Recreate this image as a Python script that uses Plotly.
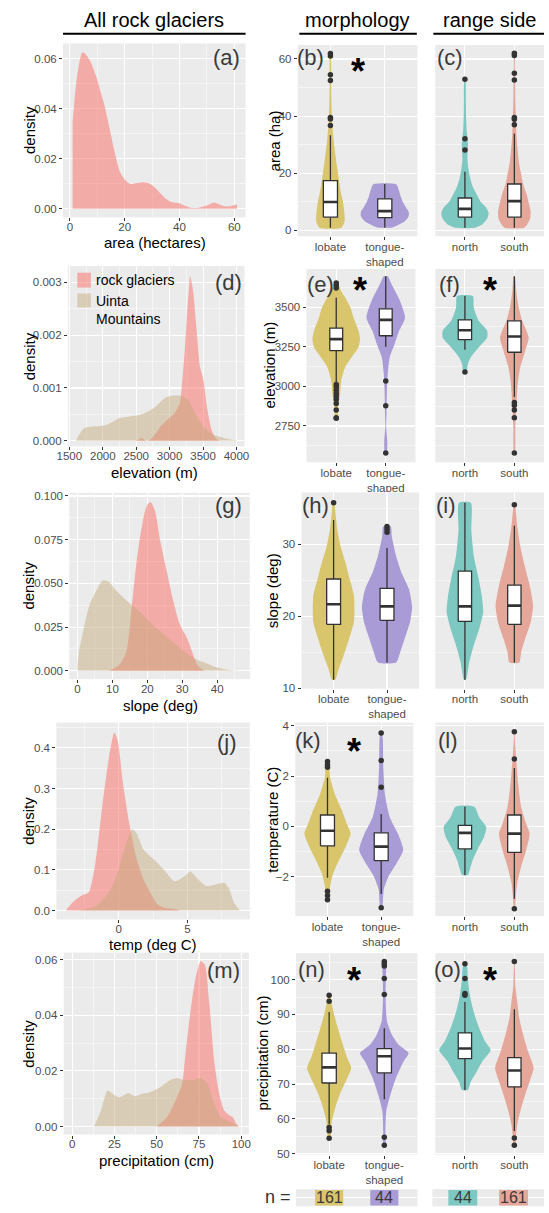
import plotly.graph_objects as go

W, H = 549, 1213
FONT = "Liberation Sans, Arial, sans-serif"
BG = "#EBEBEB"
TICKC = "#4D4D4D"
DARK = "#333333"
PINK = "rgba(248,118,109,0.55)"
TAN = "rgba(196,167,120,0.45)"
C_LOB, C_TON, C_NOR, C_SOU = "#D9C56B", "#A99BD5", "#7EC8C2", "#E6A79B"

# ---------------- data ----------------
morph_groups = ["lobate", "tongue-<br>shaped"]
side_groups = ["north", "south"]
n_morph = [161, 44]
n_side = [44, 161]

area_x = [1, 2, 3, 4.6, 7, 9.5, 11.4, 12.6, 14.5, 16.3, 18.2, 20.1, 22, 24, 26.5, 29, 31, 33, 35, 37, 40, 42, 44.6, 47, 50, 52.5, 55, 57, 59, 61]
area_rg = [0.035, 0.047, 0.0557, 0.0627, 0.060, 0.0533, 0.046, 0.0415, 0.032, 0.0229, 0.0149, 0.0116, 0.0099, 0.0102, 0.0106, 0.0101, 0.0085, 0.0062, 0.0040, 0.0027, 0.0022, 0.0012, 0.0003, 0.0004, 0.0013, 0.0025, 0.0015, 0.0009, 0.0012, 0.0017]

elev_rg_x = [2500, 2550, 2580, 2620, 2660, 2720, 2800, 2870, 2970, 3070, 3150, 3180, 3226, 3260, 3290, 3305, 3330, 3355, 3404, 3455, 3506, 3557, 3634, 3700, 3760]
elev_rg = [0, 0.00003, 0.00006, 0.00002, 0.0, 0.00003, 0.00015, 0.00028, 0.0004, 0.00052, 0.0007, 0.001, 0.0017, 0.0024, 0.0029, 0.00312, 0.0030, 0.0028, 0.0021, 0.0014, 0.00115, 0.00065, 0.00018, 0.00003, 0]
elev_um_x = [1595, 1650, 1723, 1850, 2053, 2257, 2400, 2563, 2766, 2921, 3022, 3174, 3276, 3350, 3430, 3500, 3582, 3650, 3736, 3887, 3989, 4030]
elev_um = [0, 0.00012, 0.00024, 0.00027, 0.0003, 0.00043, 0.00046, 0.00049, 0.00062, 0.0008, 0.00085, 0.00085, 0.00077, 0.0006, 0.0004, 0.00028, 0.00018, 0.00012, 0.00008, 0.00003, 0.00001, 0]

slope_rg_x = [9.1, 12, 14, 15.4, 16.9, 18.3, 19.8, 20.9, 22.2, 23.6, 25.6, 27.5, 29.4, 31.4, 32.8, 34.3, 36.2]
slope_rg = [0, 0.0034, 0.011, 0.0337, 0.062, 0.081, 0.0943, 0.0966, 0.0915, 0.0754, 0.0565, 0.0394, 0.026, 0.0186, 0.011, 0.0034, 0]
slope_um_x = [0, 0.5, 1.4, 3.3, 5.2, 7.2, 9.1, 11, 14, 17.8, 21.7, 25.6, 29.4, 33.3, 36.2, 39.1, 43, 46.8]
slope_um = [0.0034, 0.012, 0.0205, 0.0366, 0.045, 0.0517, 0.0508, 0.046, 0.0403, 0.0337, 0.026, 0.0195, 0.0129, 0.0072, 0.0048, 0.0025, 0.0006, 0]

temp_rg_x = [-3.8, -3.2, -2.7, -2.2, -1.7, -1.2, -0.7, -0.32, -0.07, 0.3, 0.8, 1.3, 1.8, 2.3, 2.8, 3.3, 3.8, 4.3, 4.5]
temp_rg = [0.003, 0.025, 0.037, 0.044, 0.118, 0.257, 0.38, 0.437, 0.416, 0.314, 0.208, 0.127, 0.076, 0.044, 0.016, 0.007, 0.005, 0.002, 0]
temp_um_x = [-2.9, -1.7, -0.95, -0.45, 0.05, 0.55, 0.98, 1.3, 1.8, 2.55, 3.3, 4.05, 4.8, 5.2, 5.8, 6.4, 7.05, 7.7, 8.05, 8.4, 8.8]
temp_um = [0, 0.0106, 0.035, 0.06, 0.109, 0.167, 0.2, 0.19, 0.15, 0.126, 0.1, 0.072, 0.084, 0.096, 0.076, 0.06, 0.064, 0.068, 0.052, 0.019, 0.002]

precip_rg_x = [50, 56, 62, 65, 67, 70, 73, 76, 78.4, 81, 84, 87, 90, 93, 95, 97, 98.4]
precip_rg = [0, 0.0033, 0.0105, 0.0153, 0.026, 0.0415, 0.0534, 0.0594, 0.0582, 0.045, 0.0236, 0.0117, 0.0057, 0.0039, 0.0033, 0.001, 0]
precip_um_x = [13, 17, 21, 24, 28, 33, 37, 41, 46, 52, 58, 62, 66, 72, 76, 80, 84, 88, 92, 96, 99]
precip_um = [0, 0.0057, 0.0129, 0.0117, 0.0105, 0.0119, 0.0109, 0.0117, 0.0123, 0.0141, 0.0167, 0.0174, 0.0167, 0.0167, 0.0174, 0.0153, 0.0081, 0.0033, 0.0021, 0.001, 0]

area_lob_v = [0.9, 3, 5.5, 10, 13.6, 21.7, 31, 39, 50.6, 62]
area_lob_w = [0.2, 0.26, 0.26, 0.23, 0.19, 0.125, 0.063, 0.027, 0.014, 0.005]
area_ton_v = [1.0, 2.1, 3, 4, 5, 6.5, 8, 10, 12, 14, 16.1]
area_ton_w = [0.14, 0.27, 0.36, 0.41, 0.44, 0.44, 0.39, 0.33, 0.29, 0.26, 0.21]
area_nor_v = [0.9, 2, 4, 6, 8, 10.2, 12.5, 14.8, 18, 21.7, 25, 28, 30, 32, 35, 40, 45, 52.6]
area_nor_w = [0.2, 0.35, 0.45, 0.48, 0.43, 0.31, 0.24, 0.17, 0.11, 0.07, 0.05, 0.06, 0.063, 0.055, 0.035, 0.024, 0.02, 0.01]
area_sou_v = [0.9, 2, 4, 6.5, 9, 12.5, 16, 19.4, 23, 27.5, 33.3, 40, 45, 52, 58, 62]
area_sou_w = [0.2, 0.26, 0.32, 0.33, 0.3, 0.25, 0.18, 0.14, 0.1, 0.07, 0.043, 0.03, 0.02, 0.016, 0.01, 0.006]

elev_lob_v = [2798, 2871, 2954, 3037, 3121, 3183, 3246, 3298, 3350, 3433, 3496, 3560, 3600, 3652]
elev_lob_w = [0.02, 0.04, 0.08, 0.1, 0.18, 0.31, 0.45, 0.48, 0.45, 0.35, 0.29, 0.18, 0.1, 0.03]
elev_ton_v = [2579, 2620, 2662, 2746, 2829, 2975, 3079, 3183, 3267, 3350, 3433, 3537, 3642, 3694]
elev_ton_w = [0.02, 0.03, 0.03, 0.008, 0.016, 0.024, 0.04, 0.08, 0.18, 0.27, 0.39, 0.29, 0.12, 0.04]
elev_nor_v = [3090, 3142, 3183, 3246, 3308, 3350, 3413, 3496, 3569]
elev_nor_w = [0.03, 0.06, 0.12, 0.28, 0.45, 0.45, 0.28, 0.18, 0.16]
elev_sou_v = [2579, 2746, 2871, 3017, 3121, 3225, 3308, 3413, 3496, 3600, 3694]
elev_sou_w = [0.01, 0.02, 0.04, 0.07, 0.12, 0.22, 0.29, 0.16, 0.09, 0.04, 0.01]

slope_lob_v = [11.2, 12.8, 14.6, 16.9, 19.2, 21.1, 22.9, 25.2, 27.5, 29.75, 32, 34.3, 35.8]
slope_lob_w = [0.03, 0.1, 0.19, 0.29, 0.38, 0.39, 0.38, 0.3, 0.22, 0.13, 0.07, 0.036, 0.01]
slope_ton_v = [13.6, 15.1, 16.9, 19.2, 21.3, 23.8, 26.1, 28.4, 31.1, 32.5]
slope_ton_w = [0.17, 0.25, 0.33, 0.43, 0.47, 0.41, 0.27, 0.17, 0.09, 0.07]
slope_nor_v = [11.2, 13.7, 16, 18.3, 20.6, 22.9, 25.2, 28.4, 32, 35.8]
slope_nor_w = [0.02, 0.09, 0.18, 0.29, 0.37, 0.34, 0.28, 0.18, 0.13, 0.12]
slope_sou_v = [13.6, 15.1, 16.9, 19.2, 21.5, 24.3, 27, 29.75, 32.5, 35.2, 35.5]
slope_sou_w = [0.1, 0.14, 0.22, 0.33, 0.38, 0.31, 0.21, 0.12, 0.06, 0.02, 0.01]

temp_lob_v = [-2.96, -2.76, -2.37, -1.85, -1.33, -0.81, -0.29, 0.1, 0.63, 1.27, 1.93, 2.58]
temp_lob_w = [0.02, 0.04, 0.05, 0.11, 0.22, 0.34, 0.43, 0.36, 0.27, 0.14, 0.05, 0.02]
temp_ton_v = [-3.24, -3.02, -2.5, -1.98, -1.46, -0.94, -0.29, 0.36, 1.27, 2.32, 3.49, 3.75]
temp_ton_w = [0.02, 0.03, 0.05, 0.14, 0.29, 0.41, 0.31, 0.16, 0.07, 0.04, 0.03, 0.01]
temp_nor_v = [-1.94, -1.72, -1.33, -0.94, -0.42, -0.03, 0.36, 0.78]
temp_nor_w = [0.06, 0.1, 0.16, 0.25, 0.39, 0.43, 0.29, 0.19]
temp_sou_v = [-3.28, -2.76, -2.24, -1.59, -0.94, -0.29, 0.1, 0.75, 1.66, 2.58, 3.49, 3.77]
temp_sou_w = [0.01, 0.03, 0.06, 0.14, 0.24, 0.31, 0.24, 0.14, 0.08, 0.04, 0.01, 0.006]

precip_lob_v = [54.4, 55.5, 59.3, 63.1, 66.9, 70.7, 74.6, 77.4, 81.3, 86, 90.7, 94.1, 95.5]
precip_lob_w = [0.02, 0.035, 0.05, 0.11, 0.19, 0.3, 0.4, 0.33, 0.25, 0.16, 0.08, 0.035, 0.02]
precip_ton_v = [52.4, 56.4, 62.1, 66.9, 71.7, 76.5, 78.9, 81.3, 84.1, 87.9, 93.6, 99.3, 104.1, 105.2]
precip_ton_w = [0.02, 0.02, 0.035, 0.11, 0.21, 0.35, 0.44, 0.26, 0.14, 0.05, 0.026, 0.026, 0.035, 0.02]
precip_nor_v = [68.3, 70.7, 73.6, 76.5, 79.8, 82.2, 86, 90.7, 95.5, 100.3, 103.1, 104.6]
precip_nor_w = [0.06, 0.12, 0.24, 0.35, 0.52, 0.41, 0.29, 0.18, 0.1, 0.06, 0.05, 0.02]
precip_sou_v = [52.3, 54.7, 58.4, 62.1, 66.9, 70.7, 74.6, 79.3, 84.1, 88.9, 93.6, 98.3, 104.1, 105.2]
precip_sou_w = [0.02, 0.03, 0.06, 0.12, 0.22, 0.31, 0.39, 0.28, 0.18, 0.1, 0.06, 0.02, 0.01, 0.006]

area_lob_box = [4.6, 9.9, 17.4, 0.9, 33.3]
area_lob_out = [36.7, 39.0, 39.5, 52.5, 54.5, 61.0, 61.9]
area_ton_box = [4.4, 6.7, 11.0, 0.9, 16.2]
area_ton_out = []
area_nor_box = [4.6, 7.5, 11.3, 0.9, 20.5]
area_nor_out = [28.1, 32.1, 52.9]
area_sou_box = [4.6, 10.2, 16.2, 0.9, 33.8]
area_sou_out = [37.0, 38.9, 39.5, 52.6, 55.0, 61.2, 62.0]

elev_lob_box = [3225, 3298, 3367, 3017, 3558]
elev_lob_out = [2798, 2802, 2850, 2892, 2917, 2937, 2954, 2975, 2996, 3011, 3621, 3637, 3652]
elev_ton_box = [3319, 3419, 3489, 3250, 3694]
elev_ton_out = [2579, 2877, 3033]
elev_nor_box = [3294, 3354, 3419, 3231, 3569]
elev_nor_out = [3090]
elev_sou_box = [3215, 3314, 3413, 2933, 3694]
elev_sou_out = [2579, 2802, 2850, 2881, 2898]

slope_lob_box = [18.9, 21.7, 25.2, 11.2, 33.4]
slope_lob_out = [35.8]
slope_ton_box = [19.45, 21.4, 23.9, 13.6, 29.5]
slope_ton_out = [31.7, 32.1, 32.5]
slope_nor_box = [19.3, 21.4, 26.3, 11.2, 35.8]
slope_nor_out = []
slope_sou_box = [18.9, 21.5, 24.35, 13.6, 32.6]
slope_sou_out = [35.5]

temp_lob_box = [-0.78, -0.18, 0.45, -2.05, 1.93]
temp_lob_out = [2.35, 2.45, 2.58, -2.59, -2.76, -2.93]
temp_ton_box = [-1.37, -0.81, -0.26, -2.7, 0.49]
temp_ton_out = [1.56, 2.62, 3.72, -3.24]
temp_nor_box = [-0.9, -0.26, 0.04, -1.94, 0.78]
temp_nor_out = []
temp_sou_box = [-1.04, -0.29, 0.45, -2.89, 2.32]
temp_sou_out = [2.68, 3.77, -3.28]

precip_lob_box = [70.3, 74.8, 78.9, 58.4, 90.7]
precip_lob_out = [93.8, 95.5, 57.5, 56.6, 54.4]
precip_ton_box = [73.2, 78.0, 80.2, 65.6, 86.0]
precip_ton_out = [95.7, 100.3, 103.9, 104.6, 105.2, 54.7, 52.4]
precip_nor_box = [77.3, 80.2, 84.7, 68.3, 93.6]
precip_nor_out = [95.5, 96.0, 100.3, 104.6]
precip_sou_box = [69.2, 73.9, 77.6, 56.5, 91.5]
precip_sou_out = [105.2, 54.5, 52.4]


def dx(a, b):
    return [a / W, b / W]


def dy(a, b):
    return [1 - b / H, 1 - a / H]


def ref(i, ax):
    return ax if i == 1 else f"{ax}{i}"


def key(i, ax):
    return f"{ax}axis" if i == 1 else f"{ax}axis{i}"


TICKFONT = dict(family=FONT, size=11.5, color=TICKC)


def num_axis(i, ax, dom, rng, tick0, dtick, minor, fmt="", labels=True):
    other = "y" if ax == "x" else "x"
    d = dict(domain=dom, range=rng, anchor=ref(i, other), tickmode="linear",
             tick0=tick0, dtick=dtick, tickformat=fmt, showgrid=True,
             gridcolor="white", gridwidth=1.1, zeroline=False, showline=False,
             ticks="outside" if labels else "", ticklen=3, tickwidth=1,
             tickcolor=DARK, showticklabels=labels, tickfont=TICKFONT,
             minor=dict(tick0=tick0, dtick=minor, showgrid=True,
                        gridcolor="white", gridwidth=0.5),
             fixedrange=True)
    if ax == "x":
        d["ticklabelstandoff"] = -4
    return d


def cat_axis(i, dom, labels, show=True):
    return dict(domain=dom, range=[0.4, 2.6], anchor=ref(i, "y"), tickmode="array",
                tickvals=[1, 2], ticktext=labels, showgrid=True, gridcolor="white",
                gridwidth=1.1, zeroline=False, showline=False,
                ticks="outside" if show else "", ticklen=3, tickcolor=DARK,
                showticklabels=show, tickfont=TICKFONT, fixedrange=True,
                ticklabelstandoff=-3)


fig = go.Figure()
layout = dict(width=W, height=H, margin=dict(l=0, r=0, t=0, b=0),
              paper_bgcolor="white", plot_bgcolor=BG, showlegend=False,
              font=dict(family=FONT))

left_panels = [
    (1, 53.6, 241.6, 40.7, 216, [-2.5, 64.1], [-0.0035, 0.0662], 0, 20, 10, 0, 0.02, 0.01, ".2f",
     [(area_x, area_rg, PINK)]),
    (4, 58.6, 240.5, 265, 446.7, [1478, 4120], [-0.000107, 0.00331], 1500, 500, 250, 0, 0.001, 0.0005, ".3f",
     [(elev_rg_x, elev_rg, PINK), (elev_um_x, elev_um, TAN)]),
    (7, 60, 246, 493.5, 681.2, [-2.35, 49.35], [-0.0048, 0.1018], 0, 10, 5, 0, 0.025, 0.0125, ".3f",
     [(slope_rg_x, slope_rg, PINK), (slope_um_x, slope_um, TAN)]),
    (10, 46.7, 246, 725, 923.3, [-4.55, 9.55], [-0.022, 0.462], 0, 5, 2.5, 0, 0.1, 0.05, ".1f",
     [(temp_rg_x, temp_rg, PINK), (temp_um_x, temp_um, TAN)]),
    (13, 54.3, 245, 956.7, 1140, [-5, 104.5], [-0.0029, 0.0625], 0, 25, 12.5, 0, 0.02, 0.01, ".2f",
     [(precip_rg_x, precip_rg, PINK), (precip_um_x, precip_um, TAN)]),
]
for (i, x0, x1, y0, y1, xr, yr, xt0, xdt, xmn, yt0, ydt, ymn, yfmt, series) in left_panels:
    layout[key(i, "x")] = num_axis(i, "x", dx(x0, x1), xr, xt0, xdt, xmn, "d")
    layout[key(i, "y")] = num_axis(i, "y", dy(y0, y1), yr, yt0, ydt, ymn, yfmt)
    for xs, ys, col in series:
        fig.add_trace(go.Scatter(x=xs, y=ys, fill="tozeroy", fillcolor=col, mode="lines",
                                 line=dict(width=0, color=col, shape="spline", smoothing=0.7),
                                 xaxis=ref(i, "x"), yaxis=ref(i, "y"), hoverinfo="skip"))


def add_group(i, center, vals, hws, color, box, outl, bw):
    xa, ya = ref(i, "x"), ref(i, "y")
    xs = [center + w for w in hws] + [center - w for w in hws[::-1]]
    ys = list(vals) + list(vals[::-1])
    xs.append(xs[0]); ys.append(ys[0])
    fig.add_trace(go.Scatter(x=xs, y=ys, fill="toself", fillcolor=color, mode="lines",
                             line=dict(width=0, color=color, shape="spline", smoothing=0.6),
                             xaxis=xa, yaxis=ya, hoverinfo="skip"))
    q1, med, q3, lo, hi = box
    fig.add_trace(go.Scatter(x=[center, center, None, center, center], y=[lo, q1, None, q3, hi],
                             mode="lines", line=dict(color=DARK, width=1.3),
                             xaxis=xa, yaxis=ya, hoverinfo="skip"))
    l, r = center - bw / 2, center + bw / 2
    fig.add_trace(go.Scatter(x=[l, r, r, l, l], y=[q1, q1, q3, q3, q1], mode="lines",
                             fill="toself", fillcolor="white", line=dict(color=DARK, width=1.3),
                             xaxis=xa, yaxis=ya, hoverinfo="skip"))
    fig.add_trace(go.Scatter(x=[l, r], y=[med, med], mode="lines", line=dict(color=DARK, width=2.6),
                             xaxis=xa, yaxis=ya, hoverinfo="skip"))
    if outl:
        fig.add_trace(go.Scatter(x=[center] * len(outl), y=outl, mode="markers",
                                 marker=dict(color=DARK, size=5.5),
                                 xaxis=xa, yaxis=ya, hoverinfo="skip"))


mid_panels = [
    (2, 3, 295.4, 418.6, 42.3, 235, [-2.1, 64.9], 0, 20, 10, "d",
     [(area_lob_v, area_lob_w, C_LOB, area_lob_box, area_lob_out),
      (area_ton_v, area_ton_w, C_TON, area_ton_box, area_ton_out)],
     [(area_nor_v, area_nor_w, C_NOR, area_nor_box, area_nor_out),
      (area_sou_v, area_sou_w, C_SOU, area_sou_box, area_sou_out)]),
    (5, 6, 304.4, 416.6, 268, 462.7, [2521, 3740], 2500, 250, 125, "d",
     [(elev_lob_v, elev_lob_w, C_LOB, elev_lob_box, elev_lob_out),
      (elev_ton_v, elev_ton_w, C_TON, elev_ton_box, elev_ton_out)],
     [(elev_nor_v, elev_nor_w, C_NOR, elev_nor_box, elev_nor_out),
      (elev_sou_v, elev_sou_w, C_SOU, elev_sou_box, elev_sou_out)]),
    (8, 9, 299.3, 420.3, 493, 690.8, [9.96, 37.24], 10, 10, 5, "d",
     [(slope_lob_v, slope_lob_w, C_LOB, slope_lob_box, slope_lob_out),
      (slope_ton_v, slope_ton_w, C_TON, slope_ton_box, slope_ton_out)],
     [(slope_nor_v, slope_nor_w, C_NOR, slope_nor_box, slope_nor_out),
      (slope_sou_v, slope_sou_w, C_SOU, slope_sou_box, slope_sou_out)]),
    (11, 12, 292.8, 414.5, 725, 920, [-3.58, 4.13], 0, 2, 1, "d",
     [(temp_lob_v, temp_lob_w, C_LOB, temp_lob_box, temp_lob_out),
      (temp_ton_v, temp_ton_w, C_TON, temp_ton_box, temp_ton_out)],
     [(temp_nor_v, temp_nor_w, C_NOR, temp_nor_box, temp_nor_out),
      (temp_sou_v, temp_sou_w, C_SOU, temp_sou_box, temp_sou_out)]),
    (14, 15, 293.6, 418.6, 957.3, 1160.3, [49.7, 107.6], 50, 10, 5, "d",
     [(precip_lob_v, precip_lob_w, C_LOB, precip_lob_box, precip_lob_out),
      (precip_ton_v, precip_ton_w, C_TON, precip_ton_box, precip_ton_out)],
     [(precip_nor_v, precip_nor_w, C_NOR, precip_nor_box, precip_nor_out),
      (precip_sou_v, precip_sou_w, C_SOU, precip_sou_box, precip_sou_out)]),
]
for (im, ir, x0, x1, y0, y1, yr, t0, dt, mn, fmt, mgroups, rgroups) in mid_panels:
    layout[key(im, "x")] = cat_axis(im, dx(x0, x1), morph_groups)
    layout[key(im, "y")] = num_axis(im, "y", dy(y0, y1), yr, t0, dt, mn, fmt)
    layout[key(ir, "x")] = cat_axis(ir, dx(437, 549), side_groups)
    layout[key(ir, "y")] = num_axis(ir, "y", dy(y0, y1), yr, t0, dt, mn, fmt, labels=False)
    for k, g in enumerate(mgroups):
        add_group(im, k + 1, *g, bw=0.26)
    for k, g in enumerate(rgroups):
        add_group(ir, k + 1, *g, bw=0.27)

for i, x0, x1, groups, counts, cols, bwid in [
        (16, 293.6, 418.6, morph_groups, n_morph, [C_LOB, C_TON], 0.51),
        (17, 434, 549, side_groups, n_side, [C_NOR, C_SOU], 0.57)]:
    layout[key(i, "x")] = cat_axis(i, dx(x0, x1), ["", ""], show=False)
    layout[key(i, "y")] = dict(domain=dy(1195, 1212.3), range=[0, 1], anchor=ref(i, "x"),
                               tickmode="array", tickvals=[0.5], showticklabels=False,
                               showgrid=True, gridcolor="white", gridwidth=1, zeroline=False,
                               fixedrange=True)
    fig.add_trace(go.Bar(x=[1, 2], y=[0.9, 0.9], base=[0.05, 0.05], width=bwid,
                         marker=dict(color=cols, line=dict(width=0)), textposition="none",
                         xaxis=ref(i, "x"), yaxis=ref(i, "y"), hoverinfo="skip"))

fig.update_layout(**layout)


def P(x, y):
    return x / W, 1 - y / H


ann = []


def text(t, x, y, size, color="black", angle=0, xanchor="center", bold=False, align="center"):
    px, py = P(x, y)
    ann.append(dict(text=f"<b>{t}</b>" if bold else t, x=px, y=py, xref="paper", yref="paper",
                    showarrow=False, textangle=angle, xanchor=xanchor, yanchor="middle",
                    align=align, font=dict(family=FONT, size=size, color=color)))


for t, x in [("All rock glaciers", 147), ("morphology", 357), ("range side", 493)]:
    text(t, x, 17, 20)

letters = [("(a)", 222, 55), ("(b)", 308, 55), ("(c)", 451.7, 55),
           ("(d)", 224, 281.7), ("(e)", 318.6, 283.3), ("(f)", 451.7, 283.3),
           ("(g)", 224, 506.7), ("(h)", 313.4, 506.7), ("(i)", 448, 506.7),
           ("(j)", 222, 745), ("(k)", 306.4, 743.3), ("(l)", 450, 743.3),
           ("(m)", 218.8, 975), ("(n)", 310, 973.3), ("(o)", 450, 973.3)]
for t, x, y in letters:
    text(t, x, y, 22, color="#3A3A3A")

for x, y in [(357, 67), (359, 288), (493.7, 288), (353.6, 751.7), (353, 983.3), (493.7, 983.3)]:
    text("*", x, y + 2, 36, bold=True)

for y in [128, 356, 587, 824, 1048.5]:
    text("density", 18.5, y, 15, angle=-90)
for t, x, y in [("area (ha)", 271.4, 139), ("elevation (m)", 266, 365), ("slope (deg)", 269.6, 592),
                ("temperature (C)", 269.6, 823), ("precipitation (cm)", 259, 1058)]:
    text(t, x, y, 15, angle=-90)
for t, x, y in [("area (hectares)", 148, 241), ("elevation (m)", 147.5, 473), ("slope (deg)", 153.5, 708),
                ("temp (deg C)", 146, 949), ("precipitation (cm)", 150, 1166)]:
    text(t, x, y, 15)

text("rock glaciers", 85, 279, 14, xanchor="left")
text("Uinta<br>Mountains", 85, 309, 14, xanchor="left", align="left")

text("n =", 275, 1203, 18, color="#333333")
for i, counts in [(16, n_morph), (17, n_side)]:
    for k, c in enumerate(counts):
        ann.append(dict(text=str(c), x=k + 1, y=0.5, xref=ref(i, "x"), yref=ref(i, "y"),
                        showarrow=False, font=dict(family=FONT, size=16, color="#3A3A3A")))

shapes = []
for x0, x1 in [(53.6, 241.6), (297, 418), (435, 549)]:
    shapes.append(dict(type="line", xref="paper", yref="paper", x0=x0 / W, x1=x1 / W,
                       y0=1 - 31 / H, y1=1 - 31 / H, line=dict(color="black", width=2)))
for y0, y1, col in [(271.7, 286.7, PINK), (292.7, 306.7, TAN)]:
    shapes.append(dict(type="rect", xref="paper", yref="paper", x0=68.3 / W, x1=82.3 / W,
                       y0=1 - y1 / H, y1=1 - y0 / H, fillcolor=col, line=dict(width=0)))

fig.update_layout(annotations=ann, shapes=shapes)
fig.write_html("out.html", config={"displayModeBar": False, "staticPlot": True},
               post_script="document.body.style.background='white';"
                           "document.body.style.margin='0';document.body.style.padding='0';"
                           "document.documentElement.style.overflow='hidden';")
